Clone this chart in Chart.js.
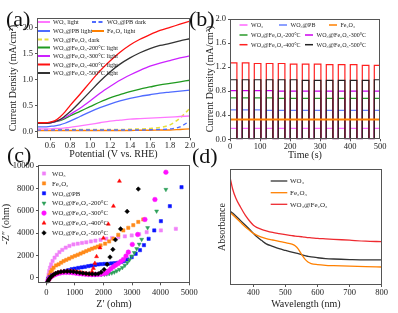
<!DOCTYPE html>
<html><head><meta charset="utf-8">
<script src="https://cdn.jsdelivr.net/npm/chart.js@4/dist/chart.umd.min.js"></script>
<style>
html,body{margin:0;padding:0;background:#fff;}
#wrap{position:relative;width:398px;height:313px;overflow:hidden;background:#fff;}
canvas{position:absolute;}
.pl{position:absolute;font-family:"Liberation Serif","Times New Roman",serif;font-size:22px;line-height:1;color:#111;}
</style></head><body>
<div id="wrap">
<canvas id="ca" style="left:0px;top:0px;width:200px;height:162px" width="200" height="162"></canvas>
<canvas id="cb" style="left:200px;top:0px;width:198px;height:162px" width="198" height="162"></canvas>
<canvas id="cc" style="left:0px;top:158px;width:200px;height:155px" width="200" height="155"></canvas>
<canvas id="cd" style="left:200px;top:158px;width:198px;height:155px" width="198" height="155"></canvas>
<div class="pl" style="left:6px;top:8px">(a)</div>
<div class="pl" style="left:189px;top:8px">(b)</div>
<div class="pl" style="left:7px;top:144px">(c)</div>
<div class="pl" style="left:192px;top:145px">(d)</div>
</div>
<script>
// ---------- Panel (a) LSV ----------
const potential = [0.47,0.55,0.6,0.65,0.7,0.75,0.8,0.9,1.0,1.1,1.2,1.3,1.4,1.5,1.6,1.7,1.8,1.9,2.0];
const jWO3Light = [0.05,0.05,0.05,0.06,0.06,0.07,0.08,0.11,0.14,0.17,0.20,0.22,0.24,0.25,0.26,0.27,0.28,0.29,0.30];
const jPBDark   = [0.03,0.03,0.03,0.03,0.03,0.03,0.03,0.03,0.03,0.03,0.03,0.03,0.03,0.03,0.035,0.04,0.05,0.09,0.21];
const jPBLight  = [0.09,0.09,0.10,0.11,0.13,0.16,0.20,0.29,0.38,0.46,0.53,0.59,0.64,0.68,0.71,0.74,0.76,0.78,0.80];
const jFeLight  = [0.02,0.02,0.02,0.02,0.02,0.02,0.02,0.02,0.02,0.02,0.02,0.02,0.02,0.025,0.025,0.03,0.03,0.04,0.05];
const jHetDark  = [0.04,0.04,0.04,0.04,0.04,0.04,0.04,0.04,0.04,0.04,0.04,0.04,0.045,0.05,0.06,0.08,0.13,0.26,0.45];
const j200 = [0.17,0.17,0.17,0.19,0.21,0.25,0.30,0.39,0.48,0.57,0.65,0.71,0.77,0.82,0.86,0.90,0.93,0.96,0.99];
const j300 = [0.17,0.17,0.17,0.19,0.22,0.27,0.33,0.45,0.59,0.74,0.87,0.99,1.09,1.18,1.26,1.32,1.37,1.42,1.46];
const j400 = [0.17,0.17,0.18,0.21,0.28,0.38,0.50,0.72,0.95,1.17,1.36,1.53,1.67,1.78,1.87,1.95,2.01,2.07,2.13];
const j500 = [0.16,0.16,0.17,0.19,0.23,0.30,0.38,0.57,0.77,0.97,1.15,1.30,1.42,1.52,1.60,1.66,1.70,1.75,1.79];
const aXTicks = [0.6,0.8,1.0,1.2,1.4,1.6,1.8,2.0];
const aYTicks = [0.0,0.5,1.0,1.5,2.0];

// ---------- Panel (b) chronoamperometry ----------
const tOn  = [1,41,81,121,161,201,241,281,321,361,401,441,481];
const tOff = [23,63,103,143,183,223,263,303,343,383,423,463,500];
const darkCurrent = 0.01;
const bWO3 = [0.18,0.18,0.18,0.18,0.18,0.18,0.18,0.18,0.18,0.18,0.18,0.18,0.18];
const bPB  = [0.49,0.49,0.49,0.48,0.48,0.48,0.48,0.48,0.48,0.48,0.48,0.48,0.48];
const b200 = [0.69,0.69,0.69,0.69,0.68,0.68,0.68,0.68,0.68,0.68,0.68,0.68,0.68];
const b300 = [0.81,0.81,0.81,0.81,0.80,0.80,0.80,0.80,0.80,0.80,0.80,0.80,0.80];
const b400 = [1.27,1.27,1.26,1.26,1.26,1.25,1.25,1.25,1.24,1.24,1.24,1.23,1.23];
const b500 = [0.99,0.99,0.99,0.99,0.99,0.99,0.98,0.98,0.98,0.98,0.98,0.98,0.99];
const bFeTime = [0,100,200,300,400,500];
const bFe     = [0.33,0.33,0.33,0.33,0.33,0.33];
const bXTicks = [0,100,200,300,400,500];
const bYTicks = [0.0,0.4,0.8,1.2,1.6,2.0];

// ---------- Panel (c) Nyquist ----------
const cWO3 = [[60,0],[80,300],[100,600],[130,900],[170,1200],[220,1500],[290,1800],[370,2050],[460,2300],[560,2500],[680,2700],[810,2850],[950,2980],[1100,3050],[1250,3120],[1400,3180],[1560,3250],[1720,3320],[1900,3400],[2100,3500],[2300,3560],[2522,3638],[2750,3710],[2989,3790],[3250,3900],[3512,4086],[4011,4238],[4534,4390]];
const cFe = [[80,-100],[110,200],[150,500],[200,700],[256,900],[340,1100],[430,1200],[520,1350],[605,1490],[700,1600],[800,1720],[900,1840],[1000,1950],[1100,2060],[1200,2170],[1300,2280],[1400,2390],[1500,2500],[1600,2600],[1700,2700],[1800,2800],[1900,2900],[2058,3050],[2200,3250],[2348,3500],[2520,3850],[2696,4238],[2870,4480],[3045,4713],[3220,5000],[3394,5224]];
const cPB = [[70,-100],[120,50],[200,200],[300,300],[420,420],[530,500],[650,600],[770,680],[890,760],[1000,820],[1120,880],[1240,930],[1350,980],[1470,1040],[1580,1090],[1700,1140],[1810,1190],[1920,1220],[2040,1240],[2160,1250],[2280,1280],[2400,1310],[2510,1340],[2620,1420],[2720,1480],[2836,1640],[2989,1846],[3128,2150],[3279,2473],[3418,2921],[3582,3494],[3779,4238],[4011,5072],[4325,6415],[4733,8118]];
const c200 = [[60,-200],[100,-80],[150,50],[220,180],[300,300],[390,400],[490,470],[600,510],[710,520],[820,510],[930,480],[1040,440],[1150,400],[1260,360],[1370,330],[1480,300],[1590,280],[1700,270],[1810,270],[1920,280],[2030,300],[2117,330],[2200,360],[2292,420],[2380,500],[2466,610],[2560,740],[2661,900],[2750,1100],[2836,1344],[2910,1600],[2989,1935],[3080,2250],[3163,2600],[3250,3000],[3338,3432],[3547,4480],[3861,5968],[4186,7912]];
const c300 = [[60,-250],[100,-100],[150,40],[220,170],[300,280],[390,370],[490,430],[600,470],[710,480],[820,470],[930,440],[1040,400],[1150,370],[1260,340],[1370,310],[1480,290],[1590,280],[1700,280],[1810,290],[1920,320],[2030,380],[2110,450],[2174,600],[2260,800],[2348,990],[2430,1130],[2522,1281],[2610,1450],[2696,1640],[2790,1950],[2872,2294],[3010,2984],[3198,3880],[3453,5224],[3802,7016],[4186,9462]];
const c400 = [[60,-300],[90,-150],[130,0],[180,130],[250,260],[330,370],[420,460],[520,530],[630,580],[750,600],[870,600],[990,570],[1100,520],[1210,460],[1320,400],[1420,350],[1520,330],[1600,550],[1650,850],[1700,1300],[1760,1900],[1880,2690],[2000,3550],[2170,4810],[2350,6420],[2560,8660]];
const c500 = [[50,-350],[80,-200],[120,-50],[170,100],[240,250],[320,380],[410,470],[510,530],[620,560],[730,570],[840,560],[950,530],[1060,490],[1170,450],[1280,410],[1390,380],[1500,350],[1610,330],[1720,330],[1820,360],[1920,500],[2023,744],[2130,1200],[2230,1850],[2330,2540],[2420,3400],[2600,4380],[2830,5950],[3220,7950]];
const cXTicks = [0,1000,2000,3000,4000,5000];
const cYTicks = [0,2000,4000,6000,8000,10000];

// ---------- Panel (d) UV-vis ----------
const wavelength = [327,335,345,360,375,390,400,410,425,440,460,480,500,520,530,540,550,560,570,580,600,625,650,700,750,800];
const absWO3 = [0.638,0.62,0.595,0.555,0.515,0.474,0.445,0.418,0.385,0.355,0.333,0.313,0.298,0.284,0.277,0.27,0.262,0.253,0.247,0.242,0.235,0.228,0.224,0.219,0.216,0.216];
const absFe  = [0.624,0.605,0.58,0.54,0.50,0.466,0.445,0.43,0.413,0.40,0.388,0.376,0.365,0.352,0.338,0.31,0.265,0.225,0.198,0.185,0.176,0.17,0.167,0.162,0.158,0.155];
const absHet = [0.93,0.83,0.75,0.67,0.60,0.545,0.515,0.497,0.48,0.467,0.453,0.443,0.434,0.426,0.422,0.419,0.416,0.413,0.409,0.407,0.402,0.398,0.394,0.386,0.378,0.374];
const dXTicks = [400,500,600,700,800];

// ---------- helpers ----------
const SERIF = '"Liberation Serif","Times New Roman",serif';
const xy = (xs, ys) => xs.map((x, i) => ({x: x, y: ys[i]}));
const pairs = p => p.map(q => ({x: q[0], y: q[1]}));
function pulses(levels) {
  const out = [{x: 0, y: darkCurrent}];
  levels.forEach((v, i) => {
    out.push({x: tOn[i], y: darkCurrent}, {x: tOn[i], y: v}, {x: tOff[i], y: v}, {x: tOff[i], y: darkCurrent});
  });
  return out;
}
function mkAxis(o) {
  return {
    type: 'linear', position: o.pos, min: o.min, max: o.max,
    afterBuildTicks: s => { s.ticks = o.ticks.map(v => ({value: v})); },
    afterFit: s => { if (o.pos === 'bottom') s.height = o.size; else s.width = o.size; },
    ticks: {display: o.show !== false, font: {family: SERIF, size: 8.5}, color: '#222', padding: o.tp, maxRotation: 0, minRotation: 0, autoSkip: false, callback: o.fmt},
    grid: {display: true, drawOnChartArea: false, drawTicks: o.show !== false, tickLength: 2, color: '#555', lineWidth: 1},
    border: {display: false},
    title: {display: true, text: o.title, color: '#222', font: {family: SERIF, size: 10, lineHeight: 1}, padding: o.tpad}
  };
}
const framePlugin = {
  id: 'frame',
  afterDatasetsDraw(chart) {
    const {ctx, chartArea: a} = chart;
    ctx.save(); ctx.strokeStyle = '#555'; ctx.lineWidth = 1;
    ctx.strokeRect(Math.round(a.left) + 0.5, Math.round(a.top) + 0.5, Math.round(a.right - a.left) - 1, Math.round(a.bottom - a.top) - 1);
    ctx.restore();
  }
};
function legendPlugin(spec) {
  return {
    id: 'panelLegend',
    afterDraw(chart) {
      const ctx = chart.ctx;
      ctx.save();
      ctx.font = spec.font;
      ctx.textBaseline = 'middle'; ctx.textAlign = 'left';
      spec.items.forEach(it => {
        const ds = chart.data.datasets[it.ds];
        if (spec.kind === 'line') {
          ctx.strokeStyle = ds.borderColor; ctx.lineWidth = spec.lw;
          ctx.setLineDash(ds.borderDash ? spec.dash : []);
          ctx.beginPath(); ctx.moveTo(it.x, it.y); ctx.lineTo(it.x + spec.len, it.y); ctx.stroke();
          ctx.setLineDash([]);
          ctx.fillStyle = '#222';
          ctx.fillText(ds.label, it.x + spec.len + spec.gap, it.y + 0.5);
        } else {
          ctx.fillStyle = ds.backgroundColor; ctx.strokeStyle = ds.borderColor; ctx.lineWidth = 0.5;
          Chart.helpers.drawPoint(ctx, {pointStyle: ds.pointStyle, rotation: ds.rotation || 0, radius: spec.r, borderWidth: 0.5}, it.x, it.y);
          ctx.fillStyle = '#222';
          ctx.fillText(ds.label, it.x + spec.gap, it.y + 0.5);
        }
      });
      ctx.restore();
    }
  };
}
const base = {responsive: false, animation: false, events: [], plugins: {legend: {display: false}, tooltip: {enabled: false}}};
const f1 = v => Number(v).toFixed(1);
const f0 = v => String(v);

// ---------- Chart (a) ----------
function lineDs(label, data, color, order, extra) {
  return Object.assign({label: label, data: data, borderColor: color, backgroundColor: color, borderWidth: 1.3, pointRadius: 0, cubicInterpolationMode: 'monotone', order: order}, extra || {});
}
new Chart(document.getElementById('ca'), {
  type: 'line',
  data: {datasets: [
    lineDs('WO₃ light', xy(potential, jWO3Light), '#ff77ff', 6),
    lineDs('WO₃@PB dark', xy(potential, jPBDark), '#4f6bff', 7, {borderDash: [4, 3]}),
    lineDs('WO₃@PB light', xy(potential, jPBLight), '#4f6bff', 5),
    lineDs('Fe₂O₃ light', xy(potential, jFeLight), '#ff8000', 8),
    lineDs('WO₃@Fe₂O₃ dark', xy(potential, jHetDark), '#e6df3a', 7, {borderDash: [4, 3], borderWidth: 1.5}),
    lineDs('WO₃@Fe₂O₃-200°C light', xy(potential, j200), '#1f9a1f', 4),
    lineDs('WO₃@Fe₂O₃-300°C light', xy(potential, j300), '#cc22ff', 3),
    lineDs('WO₃@Fe₂O₃-400°C light', xy(potential, j400), '#ff1010', 1),
    lineDs('WO₃@Fe₂O₃-500°C light', xy(potential, j500), '#333333', 2)
  ]},
  options: Object.assign({}, base, {
    layout: {padding: {left: 0, top: 18, right: 10, bottom: 0}},
    scales: {
      x: mkAxis({pos: 'bottom', min: 0.47, max: 2.0, ticks: aXTicks, size: 23.7, tp: 0.5, fmt: f1, title: 'Potential (V vs. RHE)', tpad: {top: 0, bottom: 2.7}}),
      y: mkAxis({pos: 'left', min: -0.13, max: 2.19, ticks: aYTicks, size: 37, tp: 2, fmt: f1, title: 'Current Density (mA/cm²)', tpad: {top: 8, bottom: 0}})
    }
  }),
  plugins: [framePlugin, legendPlugin({kind: 'line', font: '6.3px ' + SERIF, len: 12, gap: 3, lw: 2, dash: [4, 2.5], items: [
    {ds: 0, x: 38, y: 22}, {ds: 1, x: 92, y: 22},
    {ds: 2, x: 38, y: 31}, {ds: 3, x: 92, y: 31},
    {ds: 4, x: 38, y: 39.5}, {ds: 5, x: 38, y: 47.5}, {ds: 6, x: 38, y: 56},
    {ds: 7, x: 38, y: 64.5}, {ds: 8, x: 38, y: 73}
  ]})]
});

// ---------- Chart (b) ----------
function stepDs(label, data, color, order, w) {
  return {label: label, data: data, borderColor: color, backgroundColor: color, borderWidth: w || 1.2, pointRadius: 0, tension: 0, order: order};
}
new Chart(document.getElementById('cb'), {
  type: 'line',
  data: {datasets: [
    stepDs('WO₃', pulses(bWO3), '#ff66ff', 6),
    stepDs('WO₃@PB', pulses(bPB), '#6680ff', 5),
    stepDs('Fe₂O₃', xy(bFeTime, bFe), '#ff8000', 0, 2),
    stepDs('WO₃@Fe₂O₃-200°C', pulses(b200), '#2a9a2a', 4),
    stepDs('WO₃@Fe₂O₃-300°C', pulses(b300), '#cc00ee', 3),
    stepDs('WO₃@Fe₂O₃-400°C', pulses(b400), '#ff2020', 2),
    stepDs('WO₃@Fe₂O₃-500°C', pulses(b500), '#222222', 1)
  ]},
  options: Object.assign({}, base, {
    layout: {padding: {left: 0, top: 19, right: 18, bottom: 0}},
    scales: {
      x: mkAxis({pos: 'bottom', min: 0, max: 500, ticks: bXTicks, size: 22.7, tp: 0.5, fmt: f0, title: 'Time (s)', tpad: {top: 0, bottom: 1.3}}),
      y: mkAxis({pos: 'left', min: 0, max: 2.0, ticks: bYTicks, size: 30, tp: 2, fmt: f1, title: 'Current Density (mA/cm²)', tpad: {top: 5, bottom: 0}})
    }
  }),
  plugins: [framePlugin, legendPlugin({kind: 'line', font: '6px ' + SERIF, len: 8, gap: 3.5, lw: 1.5, dash: [], items: [
    {ds: 0, x: 39.5, y: 25}, {ds: 1, x: 79, y: 25}, {ds: 2, x: 129, y: 25},
    {ds: 3, x: 39.5, y: 35}, {ds: 4, x: 105, y: 35},
    {ds: 5, x: 39.5, y: 44.7}, {ds: 6, x: 105, y: 44.7}
  ]})]
});

// ---------- Chart (c) ----------
function ptDs(label, data, color, style, order, rot) {
  return {label: label, data: data, borderColor: color, backgroundColor: color, pointStyle: style, rotation: rot || 0, pointRadius: 2.3, pointBorderWidth: 0.5, showLine: false, order: order};
}
new Chart(document.getElementById('cc'), {
  type: 'scatter',
  data: {datasets: [
    ptDs('WO₃', pairs(cWO3), '#f080f8', 'rect', 7),
    ptDs('Fe₂O₃', pairs(cFe), '#ff8a1a', 'rect', 6),
    ptDs('WO₃@PB', pairs(cPB), '#0a14ff', 'rect', 5),
    ptDs('WO₃@Fe₂O₃-200°C', pairs(c200), '#2ea05a', 'triangle', 4, 180),
    ptDs('WO₃@Fe₂O₃-300°C', pairs(c300), '#ff10ff', 'circle', 3),
    ptDs('WO₃@Fe₂O₃-400°C', pairs(c400), '#ff0808', 'triangle', 2),
    ptDs('WO₃@Fe₂O₃-500°C', pairs(c500), '#000000', 'rectRot', 1)
  ]},
  options: Object.assign({}, base, {
    layout: {padding: {left: 0, top: 7, right: 10, bottom: 0}},
    scales: {
      x: mkAxis({pos: 'bottom', min: -290, max: 5025, ticks: cXTicks, size: 29.7, tp: 2.3, fmt: f0, title: 'Z′ (ohm)', tpad: {top: 0, bottom: 4}}),
      y: mkAxis({pos: 'left', min: -500, max: 10100, ticks: cYTicks, size: 38, tp: 2, fmt: f0, title: '-Z″ (ohm)', tpad: {top: 1, bottom: 0}})
    }
  }),
  plugins: [framePlugin, legendPlugin({kind: 'point', font: '6.8px ' + SERIF, r: 2.3, gap: 8, items: [
    {ds: 0, x: 44, y: 15.5}, {ds: 1, x: 44, y: 25.4}, {ds: 2, x: 44, y: 35.3}, {ds: 3, x: 44, y: 45.2},
    {ds: 4, x: 44, y: 55.1}, {ds: 5, x: 44, y: 65}, {ds: 6, x: 44, y: 74.9}
  ]})]
});

// ---------- Chart (d) ----------
new Chart(document.getElementById('cd'), {
  type: 'line',
  data: {datasets: [
    lineDs('WO₃', xy(wavelength, absWO3), '#333333', 2),
    lineDs('Fe₂O₃', xy(wavelength, absFe), '#ff8000', 1),
    lineDs('WO₃@Fe₂O₃', xy(wavelength, absHet), '#ee2a30', 0)
  ]},
  options: Object.assign({}, base, {
    layout: {padding: {left: 0, top: 11, right: 16.3, bottom: 0}},
    scales: {
      x: mkAxis({pos: 'bottom', min: 327, max: 800, ticks: dXTicks, size: 28, tp: 0.9, fmt: f0, title: 'Wavelength (nm)', tpad: {top: 0, bottom: 4}}),
      y: mkAxis({pos: 'left', min: 0, max: 1, ticks: [0.5], show: false, size: 30, tp: 2, fmt: f0, title: 'Absorbance', tpad: {top: 17, bottom: 0}})
    }
  }),
  plugins: [framePlugin, legendPlugin({kind: 'line', font: '7px ' + SERIF, len: 16.6, gap: 2.7, lw: 1.3, dash: [], items: [
    {ds: 0, x: 70.7, y: 23}, {ds: 1, x: 70.7, y: 34.7}, {ds: 2, x: 70.7, y: 46.3}
  ]})]
});
</script>
</body></html>
